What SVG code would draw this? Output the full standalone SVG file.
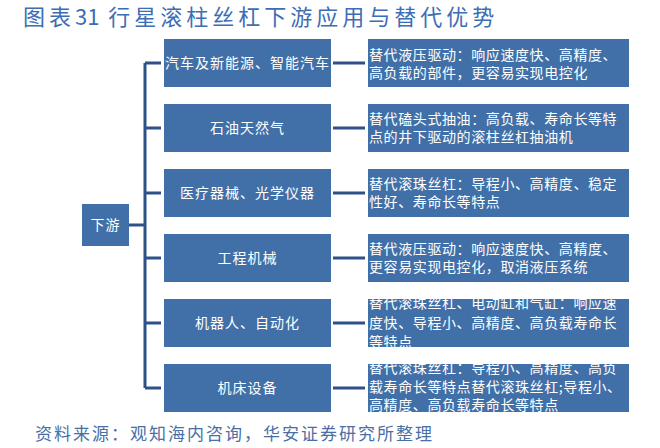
<svg xmlns="http://www.w3.org/2000/svg" width="660" height="448" viewBox="0 0 660 448">
  <style>
    .box { fill: #4170a8; }
    .lbl { fill: #ffffff; font-family: "Noto Sans CJK SC", sans-serif; font-size: 14px; }
    .mid { text-anchor: middle; letter-spacing: 1px; }
    .desc { letter-spacing: 0.6px; }
    .conn { stroke: #2e5189; stroke-width: 3; fill: none; }
    .title { fill: #3d6db5; font-family: "Noto Sans CJK SC", sans-serif; font-size: 22px; letter-spacing: 4px; }
    .foot { fill: #4a6fa5; font-family: "Noto Sans CJK SC", serif; font-size: 17px; letter-spacing: 2px; }
  </style>
  <defs>
    <clipPath id="c5"><rect x="368" y="299" width="261" height="48"/></clipPath>
    <clipPath id="c6"><rect x="368" y="364" width="261" height="48"/></clipPath>
  </defs>
  <rect width="660" height="448" fill="#ffffff"/>

  <text class="title" x="23" y="25">图表<tspan letter-spacing="0">31</tspan> 行星滚柱丝杠下游应用与替代优势</text>

  <g id="connectors">
    <path class="conn" d="M129 225 H145 M145 63 V388 M145 63 H161 M145 128 H161 M145 193 H161 M145 258 H161 M145 323 H161 M145 388 H161"/>
    <path class="conn" d="M333 63 H365 M333 128 H365 M333 193 H365 M333 258 H365 M333 323 H365 M333 388 H365"/>
  </g>

  <g id="root">
    <rect class="box" x="82" y="204" width="47" height="42"/>
    <text class="lbl mid" x="105.5" y="230">下游</text>
  </g>

  <g id="app1">
    <rect class="box" x="164" y="39" width="167" height="48"/>
    <text class="lbl mid" x="247.5" y="68">汽车及新能源、智能汽车</text>
  </g>
  <g id="app2">
    <rect class="box" x="164" y="104" width="167" height="48"/>
    <text class="lbl mid" x="247.5" y="133">石油天然气</text>
  </g>
  <g id="app3">
    <rect class="box" x="164" y="169" width="167" height="48"/>
    <text class="lbl mid" x="247.5" y="198">医疗器械、光学仪器</text>
  </g>
  <g id="app4">
    <rect class="box" x="164" y="234" width="167" height="48"/>
    <text class="lbl mid" x="247.5" y="263">工程机械</text>
  </g>
  <g id="app5">
    <rect class="box" x="164" y="299" width="167" height="48"/>
    <text class="lbl mid" x="247.5" y="328">机器人、自动化</text>
  </g>
  <g id="app6">
    <rect class="box" x="164" y="364" width="167" height="48"/>
    <text class="lbl mid" x="247.5" y="393">机床设备</text>
  </g>

  <g id="adv1">
    <rect class="box" x="368" y="39" width="261" height="48"/>
    <text class="lbl desc" x="369" y="60">替代液压驱动：响应速度快、高精度、</text>
    <text class="lbl desc" x="369" y="78">高负载的部件，更容易实现电控化</text>
  </g>
  <g id="adv2">
    <rect class="box" x="368" y="104" width="261" height="48"/>
    <text class="lbl desc" x="369" y="124">替代磕头式抽油：高负载、寿命长等特</text>
    <text class="lbl desc" x="369" y="142">点的井下驱动的滚柱丝杠抽油机</text>
  </g>
  <g id="adv3">
    <rect class="box" x="368" y="169" width="261" height="48"/>
    <text class="lbl desc" x="369" y="189">替代滚珠丝杠：导程小、高精度、稳定</text>
    <text class="lbl desc" x="369" y="207">性好、寿命长等特点</text>
  </g>
  <g id="adv4">
    <rect class="box" x="368" y="234" width="261" height="48"/>
    <text class="lbl desc" x="369" y="254">替代液压驱动：响应速度快、高精度、</text>
    <text class="lbl desc" x="369" y="272">更容易实现电控化，取消液压系统</text>
  </g>
  <g id="adv5">
    <rect class="box" x="368" y="299" width="261" height="48"/>
    <g clip-path="url(#c5)">
      <text class="lbl desc" x="369" y="308">替代滚珠丝杠、电动缸和气缸：响应速</text>
      <text class="lbl desc" x="369" y="328">度快、导程小、高精度、高负载寿命长</text>
      <text class="lbl desc" x="369" y="347">等特点</text>
    </g>
  </g>
  <g id="adv6">
    <rect class="box" x="368" y="364" width="261" height="48"/>
    <g clip-path="url(#c6)">
      <text class="lbl desc" x="369" y="373">替代滚珠丝杠：导程小、高精度、高负</text>
      <text class="lbl desc" x="369" y="392">载寿命长等特点替代滚珠丝杠;导程小、</text>
      <text class="lbl desc" x="369" y="410">高精度、高负载寿命长等特点</text>
    </g>
  </g>

  <text class="foot" x="35" y="440">资料来源：观知海内咨询，华安证券研究所整理</text>
</svg>
